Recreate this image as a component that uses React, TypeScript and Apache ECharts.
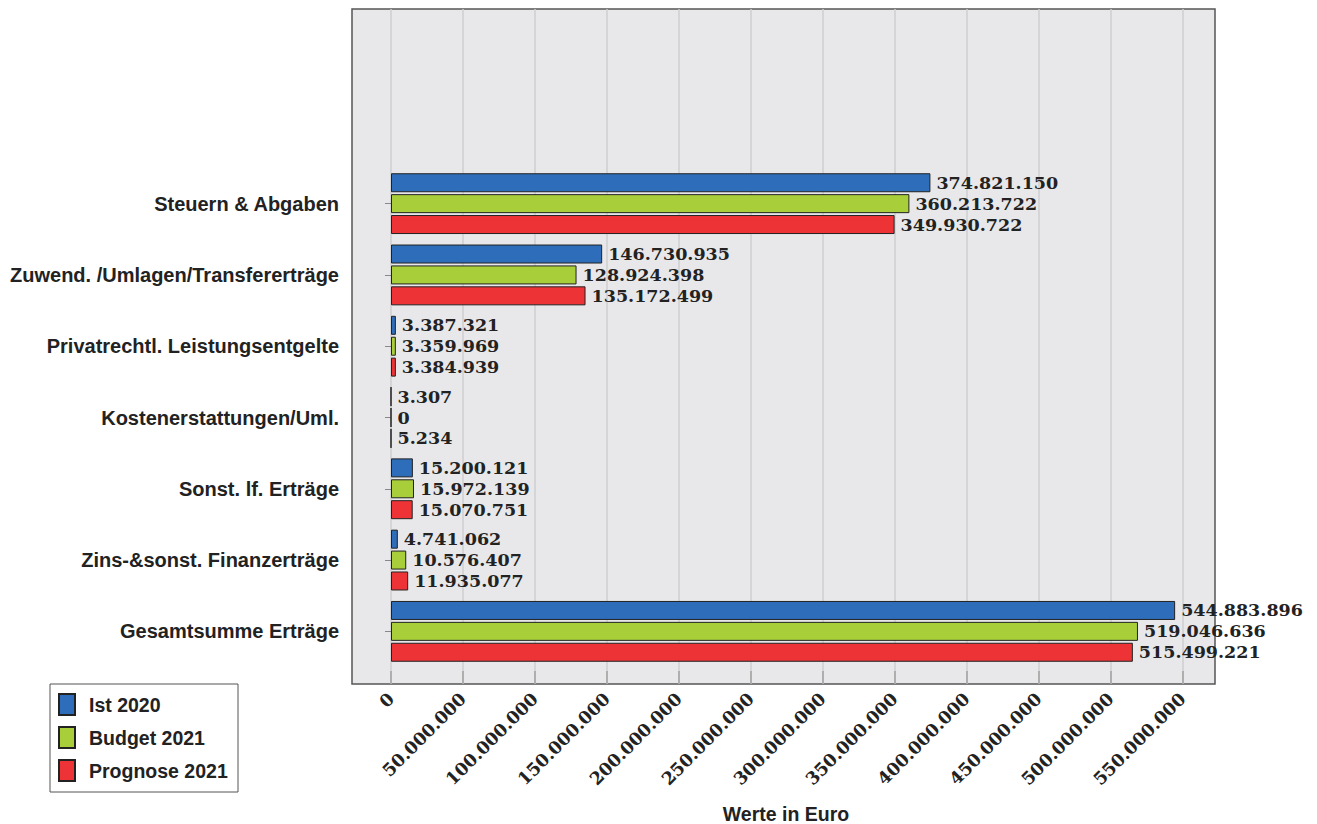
import React, { useEffect, useRef } from "react";
import * as echarts from "echarts";

const categories = [
  "Steuern & Abgaben",
  "Zuwend. /Umlagen/Transfererträge",
  "Privatrechtl. Leistungsentgelte",
  "Kostenerstattungen/Uml.",
  "Sonst. lf. Erträge",
  "Zins-&sonst. Finanzerträge",
  "Gesamtsumme Erträge",
];
const ist2020 = [374821150, 146730935, 3387321, 3307, 15200121, 4741062, 544883896];
const budget2021 = [360213722, 128924398, 3359969, 0, 15972139, 10576407, 519046636];
const prognose2021 = [349930722, 135172499, 3384939, 5234, 15070751, 11935077, 515499221];
const seriesNames = ["Ist 2020", "Budget 2021", "Prognose 2021"];
const axisTitle = "Werte in Euro";
const colors = ["#2d6db9", "#a8cf3a", "#ee3337"];
const xMax = 550000000;
const xInterval = 50000000;

const fmt = (v: number) => String(Math.round(v)).replace(/\B(?=(\d{3})+(?!\d))/g, ".");

const SERIF = "'DejaVu Serif', serif";
const SANS = "'Liberation Sans', Arial, sans-serif";

export default function App() {
  const ref = useRef<HTMLDivElement>(null);
  useEffect(() => {
    document.body.style.margin = "0";
    const chart = echarts.init(ref.current!, null, { renderer: "svg" });
    const data = [ist2020, budget2021, prognose2021];
    chart.setOption({
      animation: false,
      graphic: [
        {
          type: "rect",
          z: -10,
          shape: { x: 352, y: 9, width: 863, height: 675 },
          style: { fill: "#e8e8ea", stroke: "#555", lineWidth: 1.5 },
        },
        {
          type: "rect",
          z: -10,
          shape: { x: 50, y: 684, width: 188, height: 108 },
          style: { fill: "#fff", stroke: "#555", lineWidth: 1 },
        },
        {
          type: "text",
          x: 786,
          y: 814,
          style: {
            text: axisTitle,
            fontFamily: SANS,
            fontWeight: "bold",
            fontSize: 19.5,
            fill: "#222",
            textAlign: "center",
            textVerticalAlign: "middle",
          },
        },
      ],
      legend: {
        orient: "vertical",
        left: 58,
        top: 693,
        padding: 0,
        itemWidth: 16,
        itemHeight: 21,
        itemGap: 10,
        icon: "rect",
        data: seriesNames,
        textStyle: {
          fontFamily: SANS,
          fontWeight: "bold",
          fontSize: 19.5,
          color: "#222",
          lineHeight: 21,
          padding: [0, 0, 0, 9],
        },
      },
      grid: [
        { left: 391, right: 134.5, top: 9, bottom: 140 },
        { left: 391, right: 134.5, top: 168, bottom: 157 },
      ],
      xAxis: [
        {
          gridIndex: 0,
          type: "value",
          min: 0,
          max: xMax,
          interval: xInterval,
          axisLine: { show: false },
          axisTick: { show: true, inside: true, length: 13, lineStyle: { color: "#a0a0a0", width: 1.5 } },
          splitLine: { show: true, lineStyle: { color: "#cfcfd2", width: 1.5 } },
          axisLabel: {
            rotate: 45,
            margin: 12,
            fontFamily: SERIF,
            fontWeight: "bold",
            fontSize: 17.5,
            color: "#222",
            formatter: (v: number) => fmt(v),
          },
        },
        {
          gridIndex: 1,
          type: "value",
          min: 0,
          max: xMax,
          interval: xInterval,
          show: false,
          splitLine: { show: false },
        },
      ],
      yAxis: [
        { gridIndex: 0, type: "value", min: 0, max: 1, show: false },
        {
          gridIndex: 1,
          type: "category",
          data: categories,
          inverse: true,
          offset: 39,
          axisLine: { show: false },
          axisTick: { show: true, length: 6, alignWithLabel: true, lineStyle: { color: "#888", width: 1 } },
          axisLabel: {
            margin: 13,
            fontFamily: SANS,
            fontWeight: "bold",
            fontSize: 20,
            color: "#222",
          },
        },
      ],
      series: seriesNames.map((name, i) => ({
        name,
        type: "bar",
        xAxisIndex: 1,
        yAxisIndex: 1,
        data: data[i],
        barWidth: 19,
        barGap: "10%",
        itemStyle: { color: colors[i], borderColor: "#222", borderWidth: 1 },
        label: {
          show: true,
          position: "right",
          distance: 6,
          fontFamily: SERIF,
          fontWeight: "bold",
          fontSize: 17.5,
          color: "#222",
          formatter: (p: any) => fmt(p.value),
        },
      })),
    });
    return () => chart.dispose();
  }, []);
  return <div ref={ref} style={{ width: 1317, height: 824, overflow: "hidden" }} />;
}
